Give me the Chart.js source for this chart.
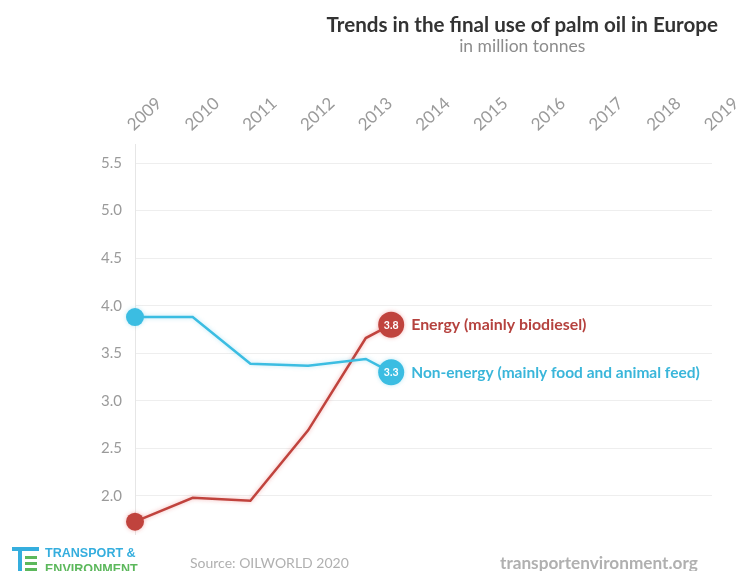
<!DOCTYPE html>
<html>
<head>
<meta charset="utf-8">
<script src="https://cdn.jsdelivr.net/npm/chart.js@4"></script>
<style>
  html, body { margin: 0; padding: 0; background: #fff; overflow: hidden; }
  #wrap { position: relative; width: 739px; height: 571px; overflow: hidden; }
  #chart { position: absolute; left: 0; top: 0; }
  .head { position: absolute; right: 21px; top: 12px; text-align: center; font-family: Lato, "Noto Sans", sans-serif; }
  .head .t { font-size: 20.6px; font-weight: 700; color: #333; line-height: 24px; }
  .head .s { font-size: 17.5px; color: #8c8c8c; margin-top: -1px; line-height: 22px; }
  .source { position: absolute; left: 190px; top: 554px; font: 14px Lato, sans-serif; color: #b0b0b0; }
  .site { position: absolute; left: 500px; top: 552px; font: bold 17.2px Lato, sans-serif; color: #b0b0b0; }
  .logo { position: absolute; left: 12px; top: 546px; width: 140px; height: 30px; }
  .logo .bar { position: absolute; background: #35aede; }
  .logo .g { position: absolute; background: #5cb85c; }
  .logo .l1, .logo .l2 { position: absolute; left: 33px; font: bold 13.5px "Liberation Sans Narrow", "Liberation Sans", sans-serif; white-space: nowrap; line-height: 14px; transform-origin: left top; transform: scaleX(0.93); }
  .logo .l1 { top: 0px; color: #35aede; }
  .logo .l2 { top: 16px; color: #5cb85c; }
</style>
</head>
<body>
<div id="wrap">
  <canvas id="chart" width="739" height="571"></canvas>
  <div class="head">
    <div class="t">Trends in the final use of palm oil in Europe</div>
    <div class="s">in million tonnes</div>
  </div>
  <div class="logo">
    <div class="bar" style="left:0;top:1px;width:27px;height:4px"></div>
    <div class="bar" style="left:6px;top:5px;width:4px;height:25px"></div>
    <div class="g" style="left:13px;top:10px;width:12px;height:3px"></div>
    <div class="g" style="left:13px;top:16px;width:12px;height:3px"></div>
    <div class="g" style="left:13px;top:22px;width:12px;height:3px"></div>
    <div class="l1">TRANSPORT &amp;</div>
    <div class="l2">ENVIRONMENT</div>
  </div>
  <div class="source">Source: OILWORLD 2020</div>
  <div class="site">transportenvironment.org</div>
</div>
<script>
// Year axis (drawn along the top)
const years = [2009, 2010, 2011, 2012, 2013, 2014, 2015, 2016, 2017, 2018, 2019];
const yearLabels = ['2009', '2010', '2011', '2012', '2013', '2014', '2015', '2016', '2017', '2018', '2019'];
const valueTicks = [2.0, 2.5, 3.0, 3.5, 4.0, 4.5, 5.0, 5.5];

// Yearly values, million tonnes
const energyYears = [2009, 2010, 2011, 2012, 2013];
const energy = [1.73, 1.98, 1.95, 2.69, 3.66];
const nonEnergy = [3.88, 3.88, 3.39, 3.37, 3.44];

// Current head of the running lines and the values shown in their bubbles
const headYear = 2013.44;
const energyHead = 3.8;
const nonEnergyHead = 3.3;

const RED = '#c0433d';
const BLUE = '#3bbde2';

function series(vals, head) {
  const pts = energyYears.map((yr, i) => ({ x: yr, y: vals[i] }));
  pts.push({ x: headYear, y: head });
  return pts;
}
function radii(n) {
  return Array.from({ length: n }, (_, i) => (i === 0 ? 9 : (i === n - 1 ? 13 : 0)));
}

const energyPts = series(energy, energyHead);
const nonEnergyPts = series(nonEnergy, nonEnergyHead);

// Soft glow around the lines
const glow = {
  id: 'glow',
  beforeDatasetDraw(chart, args) {
    const ds = chart.data.datasets[args.index];
    chart.ctx.save();
    chart.ctx.shadowColor = ds.glowColor;
    chart.ctx.shadowBlur = 4;
  },
  afterDatasetDraw(chart) {
    chart.ctx.restore();
  }
};

// Value bubble text and series name next to each line head
const headLabels = {
  id: 'headLabels',
  afterDatasetsDraw(chart) {
    const ctx = chart.ctx;
    chart.data.datasets.forEach((ds, i) => {
      const meta = chart.getDatasetMeta(i);
      const p = meta.data[meta.data.length - 1];
      const v = ds.data[ds.data.length - 1].y;
      ctx.save();
      ctx.fillStyle = '#fff';
      ctx.font = 'bold 10.5px Lato, sans-serif';
      ctx.textAlign = 'center';
      ctx.textBaseline = 'middle';
      ctx.fillText(v.toFixed(1), p.x, p.y + 0.5);
      ctx.fillStyle = ds.labelColor;
      ctx.font = 'bold ' + ds.labelSize + 'px Lato, sans-serif';
      ctx.textAlign = 'left';
      ctx.fillText(ds.label, p.x + 20, p.y + 0.5);
      ctx.restore();
    });
  }
};

new Chart(document.getElementById('chart'), {
  type: 'line',
  data: {
    datasets: [
      {
        label: 'Non-energy (mainly food and animal feed)',
        data: nonEnergyPts,
        borderColor: BLUE,
        backgroundColor: BLUE,
        glowColor: 'rgba(59,189,226,0.35)',
        labelColor: '#3ab6da',
        labelSize: 15.5,
        borderWidth: 2.5,
        pointRadius: radii(nonEnergyPts.length),
        pointBorderWidth: 0,
        tension: 0,
        clip: false
      },
      {
        label: 'Energy (mainly biodiesel)',
        data: energyPts,
        borderColor: RED,
        backgroundColor: RED,
        glowColor: 'rgba(230,90,90,0.45)',
        labelColor: '#b5423e',
        labelSize: 15.9,
        borderWidth: 2.5,
        pointRadius: radii(energyPts.length),
        pointBorderWidth: 0,
        tension: 0,
        clip: false
      }
    ]
  },
  options: {
    responsive: false,
    animation: false,
    layout: { padding: { left: 0, right: 27, top: 0, bottom: 37 } },
    plugins: { legend: { display: false }, tooltip: { enabled: false }, title: { display: false } },
    scales: {
      x: {
        type: 'linear',
        position: 'top',
        min: years[0],
        max: years[years.length - 1],
        afterBuildTicks(scale) { scale.ticks = years.map(v => ({ value: v })); },
        afterFit(scale) {
          scale.height = 144;
          scale.paddingLeft = 0;
          scale.paddingRight = 0;
        },
        grid: { display: false, drawTicks: false },
        border: { display: false },
        ticks: {
          autoSkip: false,
          minRotation: 43,
          maxRotation: 43,
          padding: 9,
          labelOffset: 9,
          color: '#9a9a9a',
          font: { family: 'Lato, sans-serif', size: 17 },
          callback: (v) => yearLabels[years.indexOf(v)]
        }
      },
      y: {
        min: 1.6,
        max: 5.7,
        afterBuildTicks(scale) { scale.ticks = valueTicks.map(v => ({ value: v })); },
        afterFit(scale) {
          scale.width = 135;
          scale.paddingTop = 0;
          scale.paddingBottom = 0;
        },
        grid: { color: '#eeeeee', lineWidth: 1, drawTicks: false },
        border: { display: true, color: '#e6e6e6', width: 1 },
        ticks: {
          padding: 13,
          color: '#9a9a9a',
          font: { family: 'Lato, sans-serif', size: 15 },
          callback: (v) => Number(v).toFixed(1)
        }
      }
    }
  },
  plugins: [glow, headLabels]
});
</script>
</body>
</html>
